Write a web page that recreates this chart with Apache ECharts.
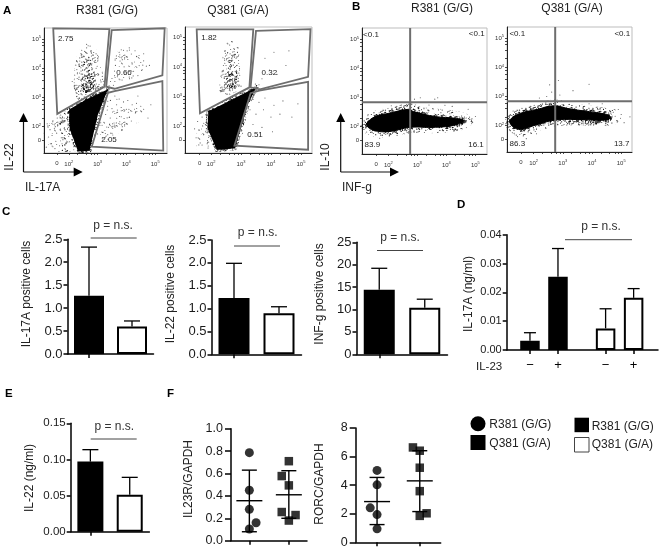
<!DOCTYPE html>
<html><head><meta charset="utf-8">
<style>html,body{margin:0;padding:0;background:#fff}#c{width:661px;height:553px}</style>
<script src="https://cdn.jsdelivr.net/npm/echarts@6/dist/echarts.min.js"></script>
</head><body><div id="c"></div>
<script>
// ---------- DATA (flow panels are in log10 decades) ----------
const flowDecades = [2, 3, 4, 5];
const flowMinor = [2.3, 2.6, 2.78, 2.9, 3.3, 3.6, 3.78, 3.9, 4.3, 4.6, 4.78, 4.9];

const gatesA1 = [
  [[1.46,5.37],[3.41,5.34],[3.24,3.37],[1.60,2.44]],
  [[3.49,5.31],[5.33,5.37],[5.25,3.76],[3.59,3.30],[3.30,3.37]],
  [[5.25,3.56],[5.28,1.18],[2.80,1.32],[3.36,3.16],[3.59,3.22]]
];
const gatesA2 = [
  [[1.52,5.28],[3.41,5.28],[3.28,3.31],[1.63,2.43]],
  [[3.50,5.23],[5.32,5.29],[5.24,3.67],[3.63,3.24],[3.32,3.31]],
  [[5.24,3.50],[5.24,1.19],[2.78,1.33],[3.32,3.11],[3.61,3.20]]
];
const coreA1 = [[2.01,2.59],[2.61,2.93],[3.36,3.28],[3.01,2.41],[2.72,1.18],[2.32,1.15],[2.03,1.95]];
const fanA1 = [[1.25,2.05],[1.7,2.42],[2.1,2.62],[2.1,1.13],[1.3,1.13]];
const midA1 = [[1.68,2.4],[2.05,2.65],[2.2,1.13],[1.72,1.13]];
const columnA1 = [[2.44,4.71],[2.85,4.77],[3.13,4.02],[3.18,3.28],[2.32,2.93],[2.2,3.93]];
const columnCoreA1 = [[2.56,4.25],[2.79,4.25],[2.9,3.33],[2.56,3.16],[2.44,3.56]];
const rightA1 = [[3.24,2.87],[3.76,3.03],[4.68,2.41],[4.0,1.95],[3.07,1.49]];
const upperA1 = [[3.53,3.55],[3.76,4.66],[4.56,4.54],[4.68,3.97],[3.6,3.42]];
const coreA2 = [[1.91,2.49],[3.52,3.32],[3.24,2.77],[2.80,1.24],[2.19,1.18],[1.88,1.92]];
const fanA2 = [[1.52,2.09],[1.97,2.43],[2.08,1.18],[1.52,1.18]];
const columnA2 = [[2.52,4.82],[2.86,4.82],[2.95,4.02],[3.0,3.28],[2.35,3.1],[2.36,4.02]];
const columnCoreA2 = [[2.6,4.2],[2.78,4.2],[2.85,3.4],[2.58,3.3],[2.5,3.7]];
const coreB1 = [[1.26,2.12],[1.55,2.35],[2.01,2.46],[2.70,2.60],[2.87,2.52],[3.62,2.35],[4.31,2.29],[4.6,2.21],[4.31,2.06],[3.62,1.98],[2.76,1.98],[2.01,1.83],[1.55,1.86],[1.3,1.98]];
const haloB1 = [[1.11,2.12],[1.49,2.48],[2.01,2.6],[2.70,2.77],[3.16,2.63],[3.96,2.55],[4.66,2.4],[4.88,2.17],[4.42,1.91],[3.62,1.83],[2.76,1.83],[2.01,1.68],[1.44,1.71],[1.15,1.89]];
const coreB2 = [[1.2,2.2],[1.55,2.42],[2.11,2.55],[2.68,2.68],[3.25,2.57],[4.16,2.44],[4.6,2.34],[4.55,2.2],[3.7,2.2],[2.8,2.2],[2.11,2.03],[1.55,1.87],[1.26,1.99]];
const haloB2 = [[1.1,2.25],[1.5,2.55],[2.1,2.7],[2.7,2.85],[3.3,2.72],[4.2,2.6],[4.95,2.42],[4.75,2.08],[3.7,2.05],[2.8,2.03],[2.15,1.86],[1.6,1.66],[1.18,1.86]];

const dotsA1 = [[2.45,4.62],[2.62,4.7],[2.78,4.55],[2.5,4.42],[2.7,4.38],[2.85,4.45],[2.38,4.25],[2.55,4.2],[2.66,4.28],[2.74,4.12],[2.9,4.2],[2.42,4.02],[2.58,3.98],[2.68,4.05],[2.8,3.95],[2.95,4.0],[2.3,3.85],[2.48,3.8],[2.62,3.88],[2.72,3.75],[2.88,3.82],[2.35,3.62],[2.52,3.6],[2.65,3.66],[2.78,3.55],[2.92,3.6],[2.28,3.42],[2.44,3.38],[2.58,3.48],[2.7,3.35],[2.84,3.42],[2.98,3.3],[2.62,4.82],[2.74,4.76],[2.2,3.3],[2.12,3.55],
[3.12,2.85],[3.3,3.0],[3.45,2.9],[3.6,3.05],[3.75,2.95],[3.9,2.85],[4.05,2.9],[4.2,2.75],[4.35,2.8],[4.5,2.7],[3.2,2.6],[3.35,2.7],[3.5,2.62],[3.66,2.75],[3.82,2.66],[4.0,2.6],[4.15,2.55],[4.32,2.5],[3.1,2.35],[3.28,2.42],[3.44,2.3],[3.6,2.45],[3.76,2.35],[3.92,2.28],[4.1,2.32],[3.08,2.05],[3.22,2.15],[3.38,1.98],[3.52,2.1],[3.68,2.02],[3.85,1.9],[3.0,1.75],[3.15,1.82],[3.3,1.68],[3.46,1.78],[4.6,2.6],[4.75,2.3],[4.4,3.05],[4.85,2.75],
[3.6,3.55],[3.7,3.75],[3.85,3.6],[3.95,3.85],[4.1,3.7],[4.25,3.9],[4.4,3.75],[4.55,3.95],[3.62,4.1],[3.78,4.25],[3.92,4.05],[4.05,4.3],[4.2,4.15],[4.35,4.4],[4.5,4.2],[3.75,4.55],[3.9,4.62],[4.1,4.7],[4.3,4.6],[4.6,4.5],[4.8,4.1],[3.45,3.55],[3.55,3.42],[3.4,3.4],[3.5,3.65],
[1.25,2.1],[1.35,1.9],[1.3,1.65],[1.45,2.2],[1.5,1.95],[1.42,1.7],[1.4,1.42],[1.6,2.3],[1.62,2.05],[1.58,1.78],[1.55,1.5],[1.52,1.25],[1.72,2.4],[1.75,2.15],[1.7,1.9],[1.74,1.62],[1.68,1.35],[1.85,2.45],[1.88,2.2],[1.84,1.95],[1.86,1.7],[1.9,1.42],[1.88,1.22],[1.22,1.3],[1.15,1.78]];

const dotsA2 = [[2.62,4.75],[2.78,4.6],[2.55,4.48],[2.72,4.4],[2.88,4.5],[2.45,4.28],[2.6,4.22],[2.78,4.15],[2.5,4.05],[2.65,3.98],[2.82,4.02],[2.95,3.95],[2.4,3.85],[2.58,3.78],[2.72,3.85],[2.88,3.72],[2.45,3.62],[2.62,3.58],[2.78,3.62],[2.92,3.52],[2.5,3.42],[2.68,3.38],[2.82,3.45],[3.0,3.35],[2.3,3.2],[2.9,4.65],
[3.4,2.9],[3.6,2.8],[3.8,2.95],[4.1,2.7],[4.4,2.85],[3.3,2.55],[3.5,2.4],[3.75,2.55],[4.0,2.3],[4.3,2.4],[3.15,2.2],[3.4,2.05],[3.7,1.95],[4.05,1.8],[3.05,1.75],[3.3,1.65],[4.7,2.3],[4.9,2.75],
[3.7,3.6],[3.95,3.9],[4.2,3.75],[4.5,4.05],[3.8,4.3],[4.1,4.5],[4.6,4.55],[3.6,3.4],[3.48,3.42],[3.55,3.3],[3.62,3.25],
[1.55,2.15],[1.6,1.85],[1.62,1.55],[1.7,2.3],[1.72,2.0],[1.75,1.7],[1.7,1.35],[1.82,2.38],[1.85,2.1],[1.82,1.82],[1.88,1.5],[1.9,1.25],[1.45,1.9],[1.5,1.6]];

const dotsB1 = [[3.1,3.0],[3.6,2.95],[3.7,3.0],[2.9,2.95],[3.4,2.75],[2.45,2.75],[2.1,2.72],[1.3,2.42],[1.25,1.82],[4.2,2.7],[4.75,2.6],[5.0,2.35],[4.9,2.15],[3.95,2.74],[2.7,1.78],[2.3,1.7],[1.7,1.6]];
const dotsB2 = [[2.55,3.4],[2.62,3.15],[2.45,3.0],[2.85,3.55],[3.35,3.2],[3.9,3.42],[2.9,3.05],[2.2,2.95],[1.3,2.5],[1.15,2.05],[1.45,1.62],[1.75,1.55],[2.1,1.72],[3.9,2.75],[4.35,2.75],[5.0,2.38],[5.3,2.3],[5.1,2.1],[4.9,2.55]];

const barC1 = {vals:[1.27,0.60], errs:[2.33,0.72]};
const barC2 = {vals:[1.23,0.90], errs:[1.99,1.04]};
const barC3 = {vals:[14.4,10.4], errs:[19.2,12.3]};
const barE  = {vals:[0.097,0.051], errs:[0.1135,0.0752]};
const dX = [1, 2, 3.7, 4.7];
const dVals = [0.0032, 0.0254, 0.0075, 0.0181];
const dErrs = [0.0060, 0.0352, 0.0143, 0.0213];
const dLabels = ['\u2212', '+', '\u2212', '+'];

const f1Circles = [[1,0.786],[1,0.45],[1,0.28],[1.17,0.16],[1,0.104]];
const f1Squares = [[2,0.71],[1.82,0.577],[2,0.494],[1.82,0.256],[2.17,0.229],[2,0.18]];
const f1Stats = [[1,0.357,0.08,0.63],[2,0.41,0.2,0.625]];
const f2Circles = [[1,5.03],[1,4.02],[0.84,2.41],[1,1.94],[1,0.94]];
const f2Squares = [[1.84,6.64],[2,6.41],[2,5.22],[2,3.58],[2.16,2.03],[2,1.85]];
const f2Stats = [[1,2.85,1.24,4.54],[2,4.3,2.15,6.41]];

const panelLetters = [['A',3,11],['B',352,7],['C',2,212],['D',457,205],['E',5,394],['F',167,394]];
const panelTitles = [['R381 (G/G)',107,11],['Q381 (G/A)',238,11],['R381 (G/G)',442,9],['Q381 (G/A)',572,9]];
const flowStats = [['2.75',65.7,38.3],['0.66',124,72.7],['2.05',109,140],['1.82',209,37.7],['0.32',269.3,72.7],['0.51',255,135],
 ['<0.1',371,34.3],['<0.1',476.7,33.3],['83.9',372.3,145],['16.1',476,145],['<0.1',517.3,33.3],['<0.1',622.3,33.3],['86.3',517.3,144],['13.7',621.7,144]];
const pNotes = [[113,226,90.7,136.7,238],[257.7,233,234,280,246],[400,238,377,423,250.5],[601,227,565,632,239.7],[114.3,427,90.7,136.7,439]];
const yTitles = [['IL-17A positive cells',27,294],['IL-22 positive cells',171,294],['INF-g positive cells',320,294],['IL-17A (ng/ml)',469,294],['IL-22 (ng/ml)',30,478],['IL23R/GAPDH',189,479],['RORC/GAPDH',320,484]];
const groupNames = ['R381 (G/G)','Q381 (G/A)'];

// ---------- STIPPLE TEXTURES (fill style only) ----------
function stipple(count, r, alpha) {
  const S = 67, cv = document.createElement('canvas');
  cv.width = cv.height = S;
  const g = cv.getContext('2d');
  g.fillStyle = 'rgba(0,0,0,'+alpha+')';
  for (let i = 0; i < count; i++) {
    const x = (i * 41.4159 + (i*i % 13) * 3.1) % S, y = (i * 25.6067 + (i*i % 17) * 2.3) % S;
    g.beginPath(); g.arc(x, y, r, 0, 7); g.fill();
  }
  return {type:'pattern', image:cv, repeat:'repeat'};
}
const TEX = {light:stipple(220,.55,.6), mid:stipple(650,.55,.65), heavy:stipple(1500,.6,.8), black:'#000'};

// ---------- BUILD ----------
const font = '"Liberation Sans", Arial, sans-serif';
const grid = [], xAxis = [], yAxis = [], series = [], graphic = [];

function addGrid(l, t, r, b, extra) {
  grid.push(Object.assign({left:l, top:t, width:r-l, height:b-t, containLabel:false}, extra||{}));
  return grid.length - 1;
}
function flowAxis(idx, dim, min, max, zero) {
  const ticks = [zero].concat(flowDecades, flowMinor).sort((a,b)=>a-b);
  return {
    type:'value', gridIndex:idx, min:min, max:max, splitLine:{show:false},
    axisLine:{show:true, onZero:false, lineStyle:{color:'#222', width:1}},
    axisTick:{show:true, length:2, customValues:ticks, lineStyle:{color:'#222', width:.8}},
    axisLabel:{show:true, customValues:[zero].concat(flowDecades), color:'#333', fontSize:6, fontFamily:font, margin: dim==='x'?7:3,
      formatter:v=> v<2 ? '0' : '10{s|'+Math.round(v)+'}',
      rich:{s:{fontSize:4, padding:[0,0,4,0], fontFamily:font, color:'#333'}}}
  };
}
function poly(idx, pts, style, z, smooth) {
  series.push({type:'custom', coordinateSystem:'cartesian2d', xAxisIndex:idx, yAxisIndex:idx, data:pts, z:z, silent:true, animation:false, clip:false,
    encode:{x:0,y:1},
    renderItem:(p,api)=> p.dataIndex!==0 ? null : ({type:'polygon', shape:{points:pts.map(q=>api.coord(q)), smooth:smooth||0}, style:style})});
}
function flowPanel(box, xr, yr, zeros, polys, gates, dots, lines) {
  const i = addGrid(box[0],box[1],box[2],box[3],{show:true, borderColor:'#bdbdbd', borderWidth:1, backgroundColor:'transparent'});
  xAxis.push(flowAxis(i,'x',xr[0],xr[1],zeros[0]));
  yAxis.push(flowAxis(i,'y',yr[0],yr[1],zeros[1]));
  polys.forEach(([pts,key,sw,sm])=>poly(i,pts,{fill:TEX[key], stroke:sw?TEX[key]:'none', lineWidth:sw||0, lineJoin:'round'}, 2, sm));
  series.push({type:'scatter', xAxisIndex:i, yAxisIndex:i, data:dots, symbolSize:1.1, itemStyle:{color:'#222', opacity:.75}, z:3, silent:true, animation:false});
  (gates||[]).forEach(g=>poly(i,g,{fill:'none', stroke:'#6e6e6e', lineWidth:1.8, lineJoin:'miter'}, 5));
  (lines||[]).forEach(g=>series.push({type:'line', xAxisIndex:i, yAxisIndex:i, data:g, symbol:'none', showSymbol:false, silent:true, animation:false, z:5, lineStyle:{color:'#6e6e6e', width:2}}));
}
function barAxisY(i, max, step, fs, dec, tick, margin) {
  return {type:'value', gridIndex:i, min:0, max:max, interval:step, splitLine:{show:false},
    axisLine:{show:true, lineStyle:{color:'#000', width:1.5}},
    axisTick:{show:true, length:tick, lineStyle:{color:'#000', width:1.5}},
    axisLabel:{color:'#1a1a1a', fontSize:fs, fontFamily:font, margin:margin, formatter:v=>v.toFixed(dec)}};
}
function errorSeries(i, rows, cap) {
  series.push({type:'custom', xAxisIndex:i, yAxisIndex:i, data:rows, z:1, silent:true, animation:false, encode:{x:0,y:[1,2]},
    renderItem:(p,api)=>{
      const x=api.value(0), a=api.coord([x,api.value(1)]), b=api.coord([x,api.value(2)]);
      const st={stroke:'#000', lineWidth:1.3, fill:'none'};
      return {type:'group', children:[
        {type:'line', shape:{x1:a[0],y1:a[1],x2:b[0],y2:b[1]}, style:st},
        {type:'line', shape:{x1:b[0]-cap,y1:b[1],x2:b[0]+cap,y2:b[1]}, style:st}]};
    }});
}
function barPanel(box, d, max, step, fs, dec, bw) {
  const i = addGrid(box[0],box[1],box[2],box[3]);
  xAxis.push({type:'category', gridIndex:i, data:groupNames, axisLine:{show:true, lineStyle:{color:'#000',width:1.5}},
    axisTick:{show:true, alignWithLabel:true, length:4, lineStyle:{color:'#000',width:1.5}}, axisLabel:{show:false}});
  yAxis.push(barAxisY(i,max,step,fs,dec,4,5));
  errorSeries(i, d.vals.map((v,k)=>[k,v,d.errs[k]]), 8);
  series.push({type:'bar', xAxisIndex:i, yAxisIndex:i, barWidth:bw, z:3, animation:false, silent:true,
    data:d.vals.map((v,k)=>({value:v, itemStyle:{color:k?'#fff':'#000', borderColor:'#000', borderWidth:2}}))});
}
function dotPanel(box, xr, max, step, fs, circles, squares, stats, dec) {
  const i = addGrid(box[0],box[1],box[2],box[3]);
  xAxis.push({type:'value', gridIndex:i, min:xr[0], max:xr[1], splitLine:{show:false},
    axisLine:{show:true, onZero:false, lineStyle:{color:'#000',width:1.5}},
    axisTick:{show:true, length:4, customValues:[1,2], lineStyle:{color:'#000',width:1.5}}, axisLabel:{show:false}});
  yAxis.push(barAxisY(i,max,step,fs,dec,6,8));
  const mk=(data,sym,size)=>series.push({type:'scatter', xAxisIndex:i, yAxisIndex:i, data:data, symbol:sym, symbolSize:size, itemStyle:{color:'#000'}, z:3, animation:false, silent:true, clip:false});
  mk(circles,'circle',9); mk(squares,'rect',8.5);
  series.push({type:'custom', xAxisIndex:i, yAxisIndex:i, data:stats, z:4, silent:true, animation:false, clip:false, encode:{x:0,y:[1,2,3]},
    renderItem:(p,api)=>{
      const x=api.value(0), m=api.coord([x,api.value(1)]), lo=api.coord([x,api.value(2)]), hi=api.coord([x,api.value(3)]);
      const st={stroke:'#000', lineWidth:1.4, fill:'none'};
      const h=(c,w)=>({type:'line', shape:{x1:c[0]-w,y1:c[1],x2:c[0]+w,y2:c[1]}, style:st});
      return {type:'group', children:[{type:'line', shape:{x1:lo[0],y1:lo[1],x2:hi[0],y2:hi[1]}, style:st}, h(m,13), h(lo,7.5), h(hi,7.5)]};
    }});
}

// flow panels
flowPanel([44,28,167,153],[1.14,5.41],[1.10,5.38],[1.59,1.52],
  [[fanA1,'light',0],[midA1,'mid',0],[columnA1,'mid',0,.4],[columnCoreA1,'heavy',0,.4],[rightA1,'light',0,.4],[upperA1,'light',0,.4],[coreA1,'heavy',4],[coreA1,'black',0]],
  gatesA1,dotsA1);
flowPanel([185,27,312,153],[1.13,5.37],[1.08,5.36],[1.62,1.53],
  [[fanA2,'light',0],[columnA2,'mid',0,.4],[columnCoreA2,'heavy',0,.4],[coreA2,'heavy',4],[coreA2,'black',0]],
  gatesA2,dotsA2);
flowPanel([362,28,487,154],[1.09,5.40],[1.06,5.40],[1.58,1.52],
  [[haloB1,'mid',3,.4],[coreB1,'heavy',5,.4],[coreB1,'black',1,.4]],null,dotsB1,
  [[[2.75,1.06],[2.75,5.40]],[[1.09,2.84],[5.40,2.84]]]);
flowPanel([507,27,632,152],[1.09,5.37],[1.09,5.39],[1.57,1.54],
  [[haloB2,'mid',3,.4],[coreB2,'heavy',5,.4],[coreB2,'black',1,.4]],null,dotsB2,
  [[[2.74,1.09],[2.74,5.39]],[[1.09,2.84],[5.37,2.84]]]);

// bars
barPanel([67.5,239.3,153.5,354], barC1, 2.5, 0.5, 13, 1, 30);
barPanel([211.5,240,301.5,354.3], barC2, 2.5, 0.5, 13, 1, 31);
barPanel([356.5,242.3,447.5,354.3], barC3, 25, 5, 13, 0, 31);
barPanel([70.7,423.3,149.4,531.7], barE, 0.15, 0.05, 11.5, 2, 26);

// D: grouped bars placed on a numeric position axis
const di = addGrid(506.7,234.7,658,350);
xAxis.push({type:'value', gridIndex:di, min:0.17, max:5.57, splitLine:{show:false},
  axisLine:{show:true, onZero:false, lineStyle:{color:'#000',width:1.5}},
  axisTick:{show:true, length:4, customValues:dX, lineStyle:{color:'#000',width:1.5}},
  axisLabel:{show:true, customValues:dX, margin:9, fontSize:13, color:'#000', fontFamily:font, formatter:v=>dLabels[dX.indexOf(v)]||''}});
yAxis.push(barAxisY(di,0.04,0.01,11,2,4,5));
errorSeries(di, dX.map((x,k)=>[x,dVals[k],dErrs[k]]), 6);
series.push({type:'bar', xAxisIndex:di, yAxisIndex:di, barWidth:19.5, z:3, animation:false, silent:true,
  data:dX.map((x,k)=>({value:[x,dVals[k]], itemStyle:{color:k<2?'#000':'#fff', borderColor:'#000', borderWidth:2}}))});

// dot plots
dotPanel([231,428.7,307,540.7],[0.535,2.46],1,0.2,12.5,f1Circles,f1Squares,f1Stats,1);
dotPanel([355.7,428,440.7,542.3],[0.5,2.49],8,2,12.5,f2Circles,f2Squares,f2Stats,0);

// annotations
const txt=(s,x,y,o)=>graphic.push({type:'text', x:x, y:y, silent:true, z:10, style:Object.assign({text:s, font:'12px '+font, fill:'#222', textAlign:'center', textVerticalAlign:'middle'},o||{})});
panelLetters.forEach(([s,x,y])=>txt(s,x,y,{font:'bold 11.5px '+font, fill:'#000', textAlign:'left'}));
panelTitles.forEach(([s,x,y])=>txt(s,x,y));
flowStats.forEach(([s,x,y])=>txt(s,x,y,{font:'8px '+font}));
yTitles.forEach(([s,x,y])=>graphic.push({type:'text', x:x, y:y, rotation:Math.PI/2, silent:true, style:{text:s, font:'12px '+font, fill:'#222', textAlign:'center', textVerticalAlign:'middle'}}));
pNotes.forEach(([tx,ty,x1,x2,y])=>{
  txt('p = n.s.',tx,ty,{fill:'#333'});
  graphic.push({type:'line', silent:true, shape:{x1:x1,y1:y,x2:x2,y2:y}, style:{stroke:'#444', lineWidth:1}});
});
txt('IL-23',476,367,{textAlign:'left', font:'11.5px '+font});
// marker axes with arrows
[[23.5,82.7,'IL-22','IL-17A',10,157,25],[340.7,399,'IL-10','INF-g',326,157,342]].forEach(([x0,x1,vl,hl,vx,vy,hx])=>{
  const st={stroke:'#111', lineWidth:1.2};
  graphic.push({type:'line',silent:true,shape:{x1:x0,y1:172,x2:x0,y2:120},style:st});
  graphic.push({type:'line',silent:true,shape:{x1:x0,y1:172,x2:x1-6,y2:172},style:st});
  graphic.push({type:'polygon',silent:true,shape:{points:[[x0,113],[x0-4.5,122],[x0+4.5,122]]},style:{fill:'#000'}});
  graphic.push({type:'polygon',silent:true,shape:{points:[[x1,172],[x1-9,167.5],[x1-9,176.5]]},style:{fill:'#000'}});
  graphic.push({type:'text',silent:true,x:vx,y:vy,rotation:Math.PI/2,style:{text:vl,font:'12px '+font,fill:'#222',textAlign:'center',textVerticalAlign:'middle'}});
  txt(hl,hx,188,{textAlign:'left'});
});
// legend keys
graphic.push({type:'circle',silent:true,shape:{cx:478,cy:423.7,r:7.5},style:{fill:'#000'}});
graphic.push({type:'rect',silent:true,shape:{x:470.5,y:435,width:15,height:15},style:{fill:'#000'}});
graphic.push({type:'rect',silent:true,shape:{x:574.5,y:417.7,width:14.5,height:14.5},style:{fill:'#000'}});
graphic.push({type:'rect',silent:true,shape:{x:574.5,y:437.5,width:14.5,height:14.5},style:{fill:'#fff',stroke:'#444',lineWidth:1}});
txt('R381 (G/G)',489.3,425,{textAlign:'left'});
txt('Q381 (G/A)',489.3,443.7,{textAlign:'left'});
txt('R381 (G/G)',591.7,426.7,{textAlign:'left'});
txt('Q381 (G/A)',591.7,444.3,{textAlign:'left'});

const chart = echarts.init(document.getElementById('c'), null, {renderer:'canvas'});
chart.setOption({animation:false, backgroundColor:'#fff', grid, xAxis, yAxis, series, graphic:{elements:graphic}, tooltip:{show:false}});
</script></body></html>
